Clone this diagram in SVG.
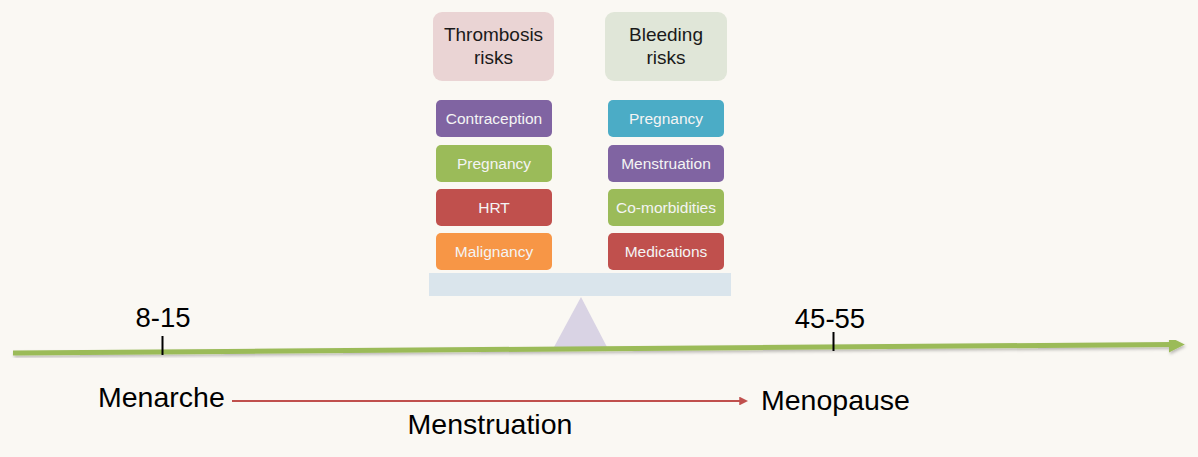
<svg xmlns="http://www.w3.org/2000/svg" width="1198" height="457" viewBox="0 0 1198 457">
<style>
.hdr{font-family:"Liberation Sans",Arial,sans-serif;font-size:19px;fill:#1a1a1a;text-anchor:middle}
.lbl{font-family:"Liberation Sans",Arial,sans-serif;font-size:15.5px;fill:#f4f4f4;text-anchor:middle}
.big{font-family:"Liberation Sans",Arial,sans-serif;font-size:28.5px;fill:#000}
.num{font-family:"Liberation Sans",Arial,sans-serif;font-size:27.5px;fill:#000;text-anchor:middle}
</style>
<defs>
<filter id="sh" x="-10%" y="-50%" width="120%" height="200%">
<feDropShadow dx="1" dy="2" stdDeviation="1.5" flood-color="#000" flood-opacity="0.25"/>
</filter>
<marker id="gArrow" viewBox="0 0 10 10" refX="2" refY="5" markerWidth="3.2" markerHeight="3.2" orient="auto" markerUnits="strokeWidth">
<path d="M0,0 L10,5 L0,10 z" fill="#9BBB59"/>
</marker>
<marker id="rArrow" viewBox="0 0 10 10" refX="2" refY="5" markerWidth="4" markerHeight="4" orient="auto" markerUnits="strokeWidth">
<path d="M0,0 L10,5 L0,10 z" fill="#C0504D"/>
</marker>
</defs>
<rect width="1198" height="457" fill="#FAF8F3"/>

<g id="thrombosis-header">
<rect x="433" y="12" width="121" height="69" rx="9" fill="#EAD4D4"/>
<text class="hdr" x="493.5" y="41">Thrombosis</text>
<text class="hdr" x="493.5" y="64">risks</text>
</g>
<g id="bleeding-header">
<rect x="605" y="12" width="122" height="69" rx="9" fill="#E0E6D8"/>
<text class="hdr" x="666" y="41">Bleeding</text>
<text class="hdr" x="666" y="64">risks</text>
</g>

<g id="t-contraception"><rect x="436" y="100" width="116" height="37" rx="5" fill="#8064A2"/><text class="lbl" x="494" y="123.5">Contraception</text></g>
<g id="t-pregnancy"><rect x="436" y="145" width="116" height="37" rx="5" fill="#9BBB59"/><text class="lbl" x="494" y="168.5">Pregnancy</text></g>
<g id="t-hrt"><rect x="436" y="189" width="116" height="37" rx="5" fill="#C0504D"/><text class="lbl" x="494" y="212.5">HRT</text></g>
<g id="t-malignancy"><rect x="436" y="233" width="116" height="37" rx="5" fill="#F79646"/><text class="lbl" x="494" y="256.5">Malignancy</text></g>

<g id="b-pregnancy"><rect x="608" y="100" width="116" height="37" rx="5" fill="#4BACC6"/><text class="lbl" x="666" y="123.5">Pregnancy</text></g>
<g id="b-menstruation"><rect x="608" y="145" width="116" height="37" rx="5" fill="#8064A2"/><text class="lbl" x="666" y="168.5">Menstruation</text></g>
<g id="b-comorbidities"><rect x="608" y="189" width="116" height="37" rx="5" fill="#9BBB59"/><text class="lbl" x="666" y="212.5">Co-morbidities</text></g>
<g id="b-medications"><rect x="608" y="233" width="116" height="37" rx="5" fill="#C0504D"/><text class="lbl" x="666" y="256.5">Medications</text></g>

<g id="seesaw">
<rect x="429" y="273" width="302" height="23" fill="#DAE5EC"/>
<polygon points="581,297 607,347 554,347" fill="#D9D3E4"/>
</g>

<g id="connectors">
<line x1="13" y1="353" x2="1172" y2="344.5" stroke="#9BBB59" stroke-width="5" marker-end="url(#gArrow)" filter="url(#sh)"/>
<line x1="162.5" y1="336" x2="162.5" y2="355" stroke="#000" stroke-width="2"/>
<line x1="833.5" y1="332" x2="833.5" y2="351" stroke="#000" stroke-width="2"/>
<line x1="232" y1="401" x2="741" y2="401" stroke="#C0504D" stroke-width="2.2" marker-end="url(#rArrow)"/>
</g>

<g id="labels">
<text class="num" x="163" y="327">8-15</text>
<text class="num" x="830" y="328">45-55</text>
<text class="big" x="98" y="407">Menarche</text>
<text class="big" x="761" y="410">Menopause</text>
<text class="big" x="490" y="434" text-anchor="middle">Menstruation</text>
</g>
</svg>
